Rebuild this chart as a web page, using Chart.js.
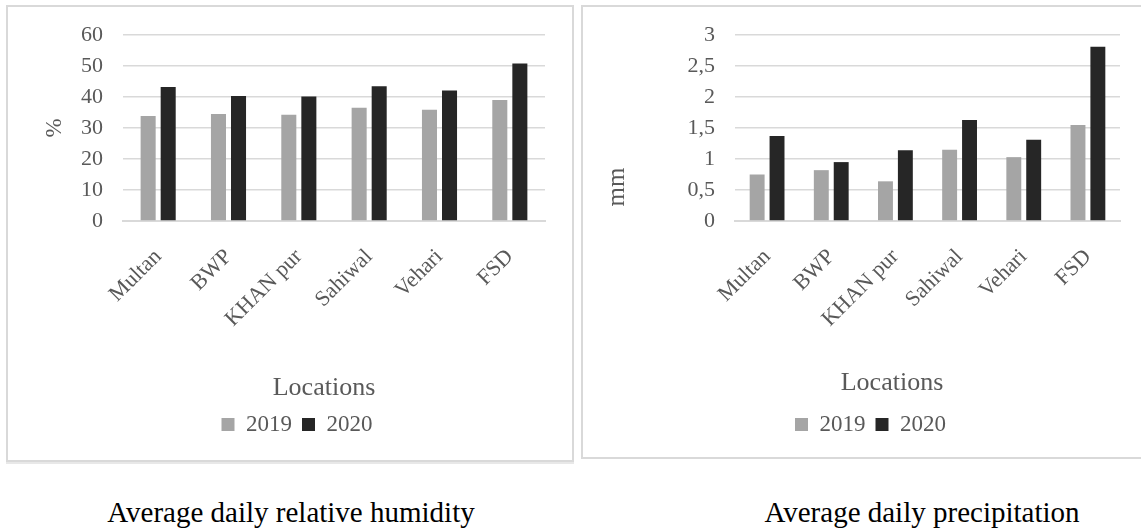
<!DOCTYPE html>
<html>
<head>
<meta charset="utf-8">
<script src="https://cdn.jsdelivr.net/npm/chart.js@4"></script>
<style>
  body { margin: 0; background: #fff; width: 1141px; height: 529px; position: relative; overflow: hidden; font-family: "Liberation Serif", serif; }
  .box { position: absolute; border: 2px solid #d9d9d9; background: #fff; }
  #boxL { left: 6px; top: 5px; width: 564px; height: 453px; box-shadow: 0 2px 0 #e8e8e8; }
  #boxR { left: 581px; top: 5px; width: 562px; height: 450px; }
  .box canvas { position: absolute; left: 0; top: 0; }
  .cap { position: absolute; top: 497px; width: 500px; font-size: 29px; line-height: 30px; color: #000; text-align: center; }
</style>
</head>
<body>
<div class="box" id="boxL"><canvas id="humidity" width="564" height="453"></canvas></div>
<div class="box" id="boxR"><canvas id="precip" width="558" height="450"></canvas></div>
<div class="cap" style="left:41px">Average daily relative humidity</div>
<div class="cap" style="left:672px">Average daily precipitation</div>
<script>
// data
var locations = ["Multan", "BWP", "KHAN pur", "Sahiwal", "Vehari", "FSD"];
var years = ["2019", "2020"];
var humidity2019 = [33.9, 34.5, 34.3, 36.5, 35.9, 39.0];
var humidity2020 = [43.2, 40.3, 40.2, 43.5, 42.1, 50.8];
var precip2019 = [0.75, 0.82, 0.64, 1.15, 1.03, 1.55];
var precip2020 = [1.37, 0.95, 1.14, 1.63, 1.31, 2.81];
var humidityTicks = [0, 10, 20, 30, 40, 50, 60];
var precipTicks = [0, 0.5, 1, 1.5, 2, 2.5, 3];

var grey = "#595959";
var serif = '"Liberation Serif", serif';
Chart.defaults.font.family = serif;
Chart.defaults.color = grey;

// axis titles drawn where Excel put them
var axisTitles = {
  id: 'axisTitles',
  afterDraw: function(chart) {
    var t = chart.options.plugins.axisTitles;
    var ctx = chart.ctx;
    ctx.save();
    ctx.fillStyle = grey;
    ctx.textAlign = 'center';
    ctx.textBaseline = 'middle';
    ctx.font = '26px ' + serif;
    ctx.fillText(t.x.text, t.x.x, t.x.y);
    ctx.translate(t.y.x, t.y.y);
    ctx.rotate(-Math.PI / 2);
    ctx.font = t.y.size + 'px ' + serif;
    ctx.fillText(t.y.text, 0, 0);
    ctx.restore();
  }
};

function makeChart(id, a, b, ticks, fmt, pad, yWidth, titles, catPct) {
  return new Chart(document.getElementById(id), {
    type: 'bar',
    data: {
      labels: locations,
      datasets: [
        { label: years[0], data: a, backgroundColor: "#a5a5a5" },
        { label: years[1], data: b, backgroundColor: "#262626" }
      ]
    },
    options: {
      responsive: false,
      animation: false,
      datasets: { bar: { categoryPercentage: catPct, barPercentage: 0.75 } },
      layout: { padding: pad },
      scales: {
        x: {
          grid: { display: false },
          border: { color: "#d9d9d9", width: 2 },
          ticks: { font: { family: serif, size: 22 }, maxRotation: 45, minRotation: 45, padding: 15 },
          afterFit: function(s) { s.height = 182; s.paddingTop = 0; }
        },
        y: {
          min: ticks[0],
          max: ticks[ticks.length - 1],
          afterBuildTicks: function(s) { s.ticks = ticks.map(function(v) { return { value: v }; }); },
          grid: { color: "#d9d9d9", lineWidth: 1.5, drawTicks: false },
          border: { display: false },
          ticks: { font: { family: serif, size: 22 }, padding: 20, callback: fmt },
          afterFit: function(s) { s.width = yWidth; s.paddingTop = 0; s.paddingBottom = 0; }
        }
      },
      plugins: {
        legend: {
          position: 'bottom',
          labels: { boxWidth: 13, boxHeight: 13, padding: 10, font: { family: serif, size: 23 }, color: grey }
        },
        tooltip: { enabled: false },
        axisTitles: titles
      }
    },
    plugins: [axisTitles]
  });
}

makeChart('humidity', humidity2019, humidity2020, humidityTicks,
  function(v) { return String(v); },
  { top: 28, right: 27, left: 41, bottom: 14 }, 74,
  { x: { text: 'Locations', x: 316, y: 381 }, y: { text: '%', x: 47, y: 121, size: 23 } }, 0.57);

makeChart('precip', precip2019, precip2020, precipTicks,
  function(v) { return String(v).replace('.', ','); },
  { top: 28, right: 21, left: 38, bottom: 11 }, 114,
  { x: { text: 'Locations', x: 309, y: 376 }, y: { text: 'mm', x: 34, y: 180, size: 25 } }, 0.62);
</script>
</body>
</html>
